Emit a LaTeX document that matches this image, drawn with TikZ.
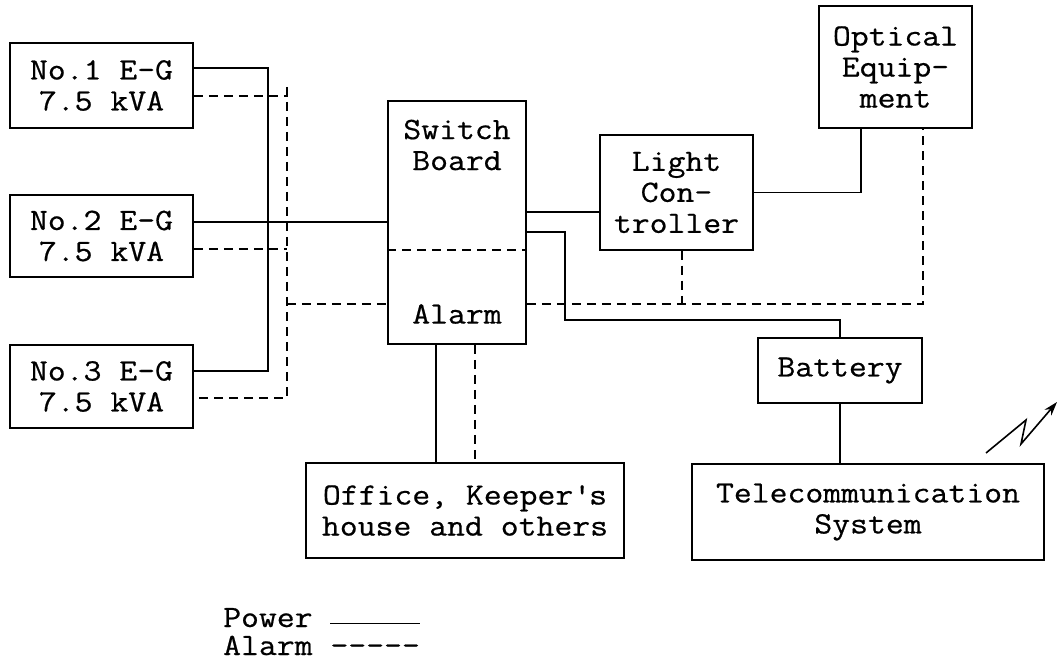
\documentclass[tikz,border=0pt]{standalone}
\usepackage{fontspec}
\setmainfont{Latin Modern Mono}[FakeStretch=1.12,FakeBold=0.6]
\usetikzlibrary{calc,arrows.meta}
\begin{document}
\begin{tikzpicture}[x=1pt,y=-1pt,
  lbl/.style={font=\fontsize{31}{31}\selectfont},
  box/.style={draw, line width=1.5pt, inner sep=0pt, align=center, lbl},
  txt/.style={inner sep=0pt, align=center, lbl},
  power/.style={line width=1.5pt},
  alarm/.style={line width=1.5pt, dash pattern=on 9pt off 6pt}]
\useasboundingbox (0,0) rectangle (1058,663);

% boxes
\node[box, minimum width=183pt, minimum height=85pt] (g1) at (101.5,85.5) {No.1 E-G\\7.5 kVA};
\node[box, minimum width=183pt, minimum height=82pt] (g2) at (101.5,236) {No.2 E-G\\7.5 kVA};
\node[box, minimum width=183pt, minimum height=83pt] (g3) at (101.5,386.5) {No.3 E-G\\7.5 kVA};
\node[box, minimum width=138pt, minimum height=243pt] (sb) at (457,222.5) {};
\node[txt] (sbt) at (457,145) {Switch\\Board};
\node[txt] (alm) at (457,314) {Alarm};
\node[box, minimum width=153pt, minimum height=115pt] (lc) at (676.5,192.5) {Light\\Con-\\troller};
\node[box, minimum width=153pt, minimum height=122pt] (opt) at (895.5,67) {Optical\\Equip-\\ment};
\node[box, minimum width=164pt, minimum height=65pt] (bat) at (840,370.5) {Battery};
\node[box, minimum width=352pt, minimum height=96pt] (tel) at (868,512) {Telecommunication\\System};
\node[box, minimum width=318pt, minimum height=95pt] (off) at (465,510.5) {Office, Keeper\textquotesingle s\\house and others};

% switch board divider
\draw[alarm] ($(sb.west)+(0,27.5)$) -- ($(sb.east)+(0,27.5)$);

% power connectors
\draw[power] ($(g1.east)+(0,-17.5)$) -- ++(74,0) |- ($(g3.east)+(0,-15.5)$);
\path ($(g2.east)+(0,-14)$) coordinate (g2p);
\draw[power] (g2p) -- (g2p -| sb.west);
\path ($(sb.east)+(0,-10.5)$) coordinate (sbl);
\draw[power] (sbl) -- (sbl -| lc.west);
\draw[power] ($(sb.east)+(0,9.5)$) -- ++(38,0) -- ++(0,88) -| (bat.north);
\draw[power] (lc.east) -| ($(opt.south)+(-34.5,0)$);
\draw[power] (bat.south) -- (bat.south |- tel.north);
\path ($(sb.south)+(-21,0)$) coordinate (sbo);
\draw[power] (sbo) -- (sbo |- off.north);

% alarm connectors
\path ($(g1.east)+(93,0)$) coordinate (bus);
\draw[alarm] ($(g1.east)+(0,10.5)$) -| (bus) |- ($(g3.east)+(0,11.5)$);
\path ($(g2.east)+(0,13)$) coordinate (g2a);
\draw[alarm] (g2a) -- (g2a -| bus);
\path ($(sb.west)+(0,81.5)$) coordinate (sbwa);
\draw[alarm] (bus |- sbwa) -- (sbwa);
\path ($(sb.east)+(0,81.5)$) coordinate (sbea);
\draw[alarm] (sbea) -| ($(opt.south)+(27.5,0)$);
\path ($(lc.south)+(5.5,0)$) coordinate (lca);
\draw[alarm] (lca) -- (lca |- sbea);
\path ($(sb.south)+(18,0)$) coordinate (sboa);
\draw[alarm] (sboa) -- (sboa |- off.north);

% radio symbol
\draw[line width=1.6pt, -{Stealth[length=14pt,width=9pt]}] (986,453) -- (1026,420) -- (1021,444) -- (1057,402);

% legend
\node[txt, anchor=base west] (lp) at (223,627) {Power \rule[3pt]{90pt}{1.5pt}};
\node[txt, anchor=base west] (la) at (223,655) {Alarm {-}{-}{-}{-}{-}};
\end{tikzpicture}
\end{document}
